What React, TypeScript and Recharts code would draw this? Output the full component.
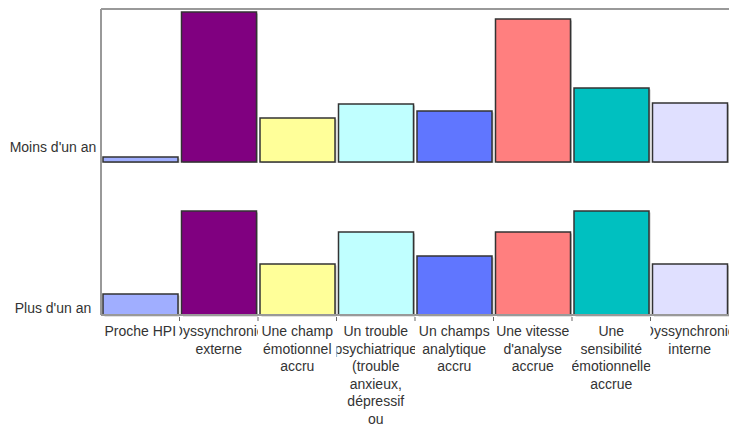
import React from "react";
import { BarChart, Bar, XAxis, YAxis, Cell, ReferenceLine } from "recharts";

const categories = [
  "Proche HPI",
  "Dyssynchronie externe",
  "Une champ émotionnel accru",
  "Un trouble psychiatrique (trouble anxieux, dépressif ou",
  "Un champs analytique accru",
  "Une vitesse d'analyse accrue",
  "Une sensibilité émotionnelle accrue",
  "Dyssynchronie interne",
];

const tickLines: string[][] = [
  ["Proche HPI"],
  ["Dyssynchronie", "externe"],
  ["Une champ", "émotionnel", "accru"],
  ["Un trouble", "psychiatrique", "(trouble", "anxieux,", "dépressif", "ou"],
  ["Un champs", "analytique", "accru"],
  ["Une vitesse", "d'analyse", "accrue"],
  ["Une", "sensibilité", "émotionnelle", "accrue"],
  ["Dyssynchronie", "interne"],
];

const rows = ["Moins d'un an", "Plus d'un an"];
const valuesMoins = [5, 150, 44, 58, 51, 143, 74, 59];
const valuesPlus = [21, 104, 51, 83, 59, 83, 104, 51];
const colors = ["#A0AEFF", "#800080", "#FFFF99", "#C0FFFF", "#6076FF", "#FF7F7F", "#00C0C0", "#E0E0FF"];
const domainMax = 153;

const dataMoins = categories.map((c, i) => ({ name: c, value: valuesMoins[i] }));
const dataPlus = categories.map((c, i) => ({ name: c, value: valuesPlus[i] }));

const FONT = "'Liberation Sans', Arial, sans-serif";
const FS = 14;
const STEP = 78.5;

const BarShape = (props: any) => {
  const { x, y, width, height, index } = props;
  if (width == null || height == null) return null;
  return (
    <g>
      <rect x={x + 1.5} y={y + 1.5} width={width} height={height} fill="#c4c4c4" />
      <rect x={x} y={y} width={width} height={height} fill={colors[index]} stroke="#333" strokeWidth={1.5} />
    </g>
  );
};

const makeRowTick = (label: string) => (props: any) => {
  const { y } = props;
  return (
    <text x={53} y={y - 7} textAnchor="middle" dominantBaseline="central" fontFamily={FONT} fontSize={FS} fill="#333">
      {label}
    </text>
  );
};

const CatTick = (props: any) => {
  const { x, y, index } = props;
  const lines = tickLines[index] || [];
  const w = STEP;
  return (
    <g>
      {index > 0 && <line x1={x - w / 2} x2={x - w / 2} y1={y + 2} y2={y + 6} stroke="#666" strokeWidth={1} />}
      <svg x={x - w / 2} y={y} width={w} height={140} overflow="hidden">
        <text textAnchor="middle" fontFamily={FONT} fontSize={FS} fill="#333">
          {lines.map((l, i) => (
            <tspan key={i} x={w / 2} y={21 + i * 17.6}>
              {l}
            </tspan>
          ))}
        </text>
      </svg>
    </g>
  );
};

export default function App() {
  return (
    <div style={{ position: "absolute", left: 0, top: 0, width: 729, height: 428, background: "#fff" }}>
      <div style={{ position: "absolute", left: 0, top: 0 }}>
        <BarChart width={729} height={163} data={dataMoins} margin={{ top: 9, right: 0, bottom: 1, left: 0 }}>
          <XAxis dataKey="name" hide />
          <YAxis
            width={101}
            domain={[0, domainMax]}
            ticks={[0]}
            tickLine={false}
            axisLine={{ stroke: "#999", strokeWidth: 2 }}
            tick={makeRowTick(rows[0])}
          />
          <ReferenceLine y={domainMax} stroke="#999" strokeWidth={2} />
          <Bar dataKey="value" barSize={75} isAnimationActive={false} shape={<BarShape />}>
            {dataMoins.map((d, i) => (
              <Cell key={i} fill={colors[i]} />
            ))}
          </Bar>
        </BarChart>
      </div>
      <div style={{ position: "absolute", left: 0, top: 162 }}>
        <BarChart width={729} height={266} data={dataPlus} margin={{ top: 0, right: 0, bottom: 0, left: 0 }}>
          <XAxis
            dataKey="name"
            height={113}
            interval={0}
            tickLine={false}
            tickSize={0}
            tickMargin={0}
            axisLine={{ stroke: "#999", strokeWidth: 2 }}
            tick={<CatTick />}
          />
          <YAxis
            width={101}
            domain={[0, domainMax]}
            ticks={[0]}
            tickLine={false}
            axisLine={{ stroke: "#999", strokeWidth: 2 }}
            tick={makeRowTick(rows[1])}
          />
          <Bar dataKey="value" barSize={75} isAnimationActive={false} shape={<BarShape />}>
            {dataPlus.map((d, i) => (
              <Cell key={i} fill={colors[i]} />
            ))}
          </Bar>
        </BarChart>
      </div>
    </div>
  );
}
